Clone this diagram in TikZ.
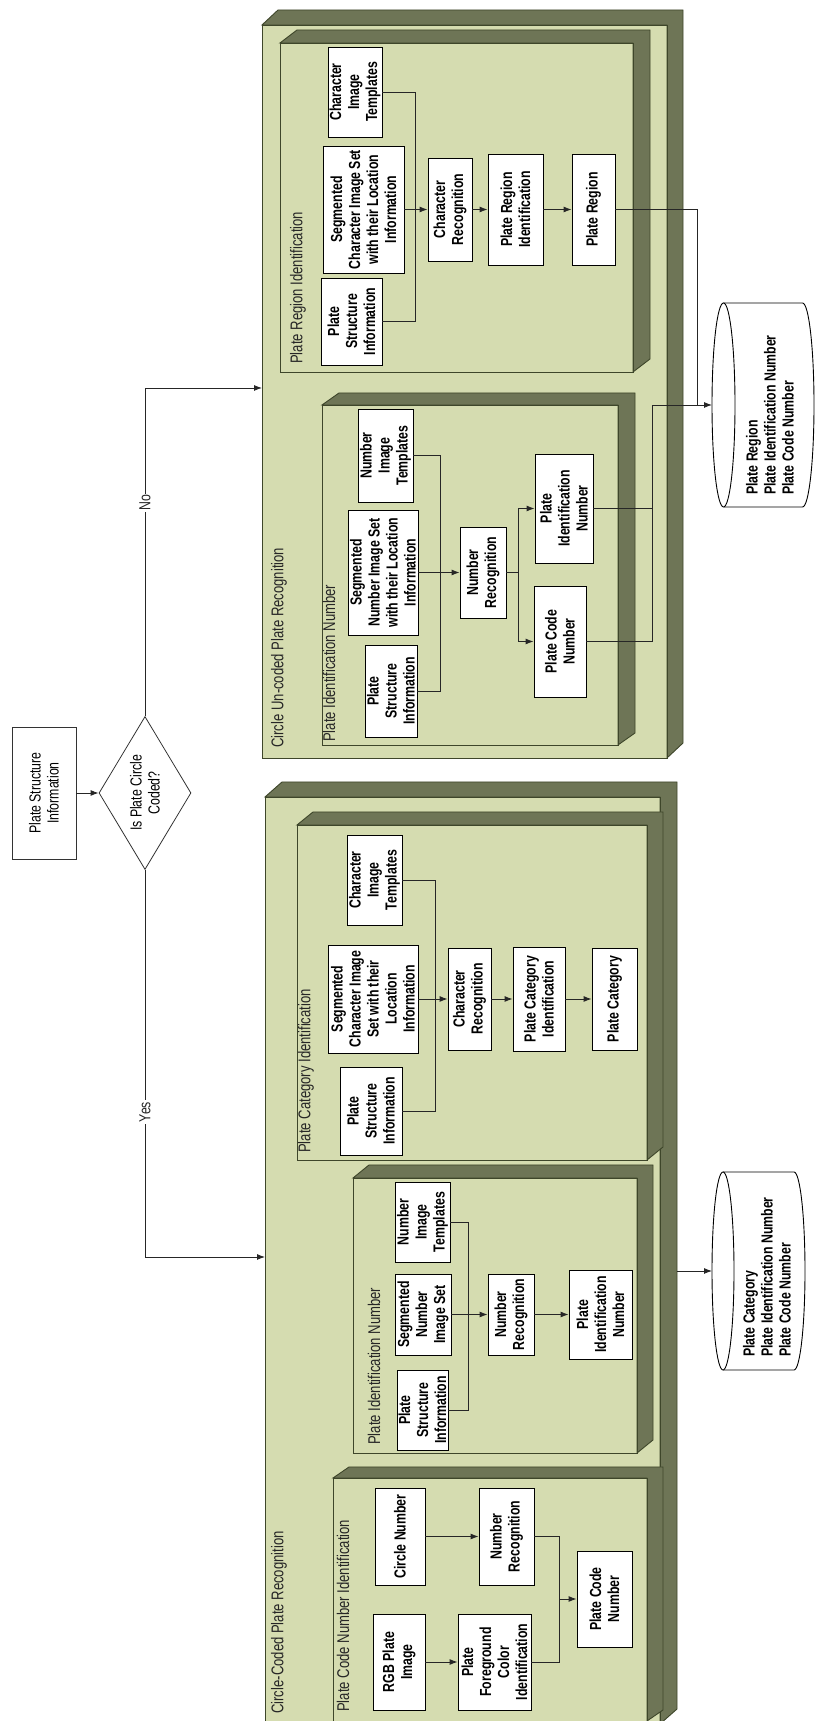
\documentclass[tikz,border=0pt]{standalone}
\usepackage{fontspec}
\setmainfont{Liberation Sans}[FakeStretch=0.77]
\usetikzlibrary{shapes.geometric,arrows.meta}

\definecolor{face}{RGB}{213,220,176}
\definecolor{side}{RGB}{110,117,86}
\definecolor{edge}{RGB}{62,70,42}

% 3D container: X1 Y1 X2 Y2 dx dy
\newcommand\tdbox[6]{%
  \fill[face] (#1,#2) rectangle (#3,#4);
  \filldraw[fill=side,draw=edge,line width=0.9pt] (#3,#2) -- ({#3+#5},{#2+#6}) -- ({#3+#5},{#4+#6}) -- ({#1+#5},{#4+#6}) -- (#1,#4) -- (#3,#4) -- cycle;
  \draw[edge,line width=0.9pt] (#1,#2) rectangle (#3,#4);
}
% white box: name X1 Y1 X2 Y2 text
\newcommand\bx[6]{%
  \node[wbox, minimum width={#4-#2}, minimum height={#5-#3}] (#1) at ({(#2+#4)/2},{(#3+#5)/2}) {#6};
}
% cylinder: name(top coordinate) X1 X2 Ytop Ybot ry
\newcommand\cyl[6]{%
  \filldraw[fill=white,draw=black,line width=0.9pt] (#2,{#4+#6}) -- (#2,{#5-#6}) arc[start angle=180,end angle=0,x radius={(#3-#2)/2},y radius=#6] -- (#3,{#4+#6});
  \filldraw[fill=white,draw=black,line width=0.9pt] ({(#2+#3)/2},{#4+#6}) ellipse[x radius={(#3-#2)/2},y radius=#6];
  \coordinate (#1) at ({(#2+#3)/2},#4);
}

\tikzset{
  wbox/.style={draw=black, fill=white, line width=0.9pt, inner sep=0pt, align=center,
    font=\bfseries\fontsize{16}{18}\selectfont},
  plainbox/.style={draw=black!80, fill=white, line width=0.8pt, inner sep=0pt, align=center,
    font=\fontsize{16}{18}\selectfont},
  ttl/.style={anchor=west, inner sep=0pt, font=\fontsize{17}{20}\selectfont, text=black!85},
  cyltext/.style={anchor=west, inner sep=0pt, align=left, font=\bfseries\fontsize{16}{18}\selectfont},
  lbl/.style={fill=white, inner sep=1.5pt, font=\fontsize{16}{18}\selectfont, text=black!85},
  conn/.style={line width=0.9pt, draw=black!85},
  arr/.style={conn, -{Latex[length=8pt,width=6pt]}},
}

\begin{document}
\begin{tikzpicture}[x=1pt, y=-1pt, rotate=90, transform shape]
\useasboundingbox (0,0) rectangle (1721,815);

% containers
\tdbox{963}{262}{1696}{667}{15}{16}
\tdbox{-3}{265}{924}{660}{15}{17}
\tdbox{1349}{280}{1678}{633}{13}{17}
\tdbox{976}{322}{1316}{618}{12}{17}
\tdbox{561}{297}{896}{647}{13}{16}
\tdbox{268}{353}{543}{637}{13}{16}
\tdbox{0}{333}{243}{647}{11}{16}

% titles
\node[ttl] (t_uc) at (973,279) {Circle Un-coded Plate Recognition};
\node[ttl] (t_cc) at (7,279) {Circle-Coded Plate Recognition};
\node[ttl] (t_pri) at (1357,298) {Plate Region Identification};
\node[ttl] (t_upin) at (979,329) {Plate Identification Number};
\node[ttl] (t_pci) at (568,306) {Plate Category Identification};
\node[ttl] (t_cpin) at (276,374) {Plate Identification Number};
\node[ttl] (t_pcni) at (9,343) {Plate Code Number Identification};

% start and decision
\node[plainbox, minimum width=132, minimum height=64] (psi) at (928,44) {Plate Structure\\Information};
\node[plainbox, diamond, aspect=1.66, minimum width=153, minimum height=92] (dec) at (928,145) {Is Plate Circle\\Coded?};

% un-coded: plate region identification
\bx{r_cit}{1584}{328}{1674}{382}{Character\\Image\\Templates}
\bx{r_seg}{1448}{323}{1575}{404}{Segmented\\Character Image Set\\with their Location\\Information}
\bx{r_psi}{1356}{321}{1443}{382}{Plate\\Structure\\Information}
\bx{r_cr}{1460}{428}{1563}{472}{Character\\Recognition}
\bx{r_pri}{1456}{488}{1567}{543}{Plate Region\\Identification}
\bx{r_pr}{1456}{572}{1567}{615}{Plate Region}

% un-coded: plate identification number
\bx{u_nit}{1219}{358}{1312}{413}{Number\\Image\\Templates}
\bx{u_seg}{1086}{348}{1211}{418}{Segmented\\Number Image Set\\with their Location\\Information}
\bx{u_psi}{984}{365}{1076}{417}{Plate\\Structure\\Information}
\bx{u_nr}{1103}{460}{1194}{506}{Number\\Recognition}
\bx{u_pin}{1158}{535}{1267}{593}{Plate\\Identification\\Number}
\bx{u_pcn}{1024}{534}{1135}{586}{Plate Code\\Number}

% coded: plate category identification
\bx{c_cit}{796}{347}{886}{402}{Character\\Image\\Templates}
\bx{c_seg}{668}{328}{776}{418}{Segmented\\Character Image\\Set with their\\Location\\Information}
\bx{c_psi}{566}{340}{654}{402}{Plate\\Structure\\Information}
\bx{c_cr}{671}{448}{773}{491}{Character\\Recognition}
\bx{c_pci}{670}{513}{774}{565}{Plate Category\\Identification}
\bx{c_pc}{671}{592}{773}{637}{Plate Category}

% coded: plate identification number
\bx{p_nit}{459}{395}{539}{450}{Number\\Image\\Templates}
\bx{p_seg}{366}{395}{447}{451}{Segmented\\Number\\Image Set}
\bx{p_psi}{271}{397}{351}{448}{Plate\\Structure\\Information}
\bx{p_nr}{366}{488}{447}{534}{Number\\Recognition}
\bx{p_pin}{362}{569}{451}{632}{Plate\\Identification\\Number}

% coded: plate code number identification
\bx{q_cn}{136}{375}{233}{425}{Circle Number}
\bx{q_rgb}{11}{373}{107}{425}{RGB Plate\\Image}
\bx{q_nr}{136}{479}{233}{534}{Number\\Recognition}
\bx{q_pfci}{11}{458}{107}{531}{Plate\\Foreground\\Color\\Identification}
\bx{q_pcn}{74}{577}{170}{632}{Plate Code\\Number}

% result stores
\cyl{cyl1top}{1214}{1418}{712}{814}{11.5}
\node[cyltext] (cyl1) at (1226,770) {Plate Region\\Plate Identification Number\\Plate Code Number};
\cyl{cyl2top}{351}{549}{712}{805}{11}
\node[cyltext] (cyl2) at (364,767) {Plate Category\\Plate Identification Number\\Plate Code Number};

% junction coordinates
\coordinate (ccin) at (464,265);
\coordinate (ucin) at (1333,262);
\coordinate (rj) at (1511.5,415);
\coordinate (uj) at (1148.5,440);
\coordinate (us) at (1148.5,518);
\coordinate (uout) at (1316,652);
\coordinate (rout) at (1316,697);
\coordinate (cj) at (722,435);
\coordinate (pj) at (406.5,468);
\coordinate (qj) at (122,559);
\coordinate (ccout) at (450,677);

% connectors: decision
\draw[arr] (psi.south) -- (dec.north);
\draw[arr] (dec.west) -| (ccin);
\draw[arr] (dec.east) -| (ucin);
\node[lbl] (yes) at (609,145) {Yes};
\node[lbl] (no) at (1218,145) {No};

% plate region identification
\draw[conn] (r_cit.south) |- (rj);
\draw[conn] (r_psi.south) |- (rj);
\draw[arr] (r_seg.south) -- (r_cr.north);
\draw[arr] (r_cr.south) -- (r_pri.north);
\draw[arr] (r_pri.south) -- (r_pr.north);
\draw[conn] (r_pr.south) |- (rout);

% un-coded plate identification number
\draw[conn] (u_nit.south) |- (uj);
\draw[conn] (u_psi.south) |- (uj);
\draw[arr] (u_seg.south) -- (u_nr.north);
\draw[conn] (u_nr.south) -- (us);
\draw[arr] (us) -| (u_pin.north);
\draw[arr] (us) -| (u_pcn.north);
\draw[conn] (u_pin.south) |- (uout);
\draw[conn] (u_pcn.south) |- (uout);
\draw[arr] (uout) -- (cyl1top);

% plate category identification
\draw[conn] (c_cit.south) |- (cj);
\draw[conn] (c_psi.south) |- (cj);
\draw[arr] (c_seg.south) -- (c_cr.north);
\draw[arr] (c_cr.south) -- (c_pci.north);
\draw[arr] (c_pci.south) -- (c_pc.north);

% coded plate identification number
\draw[conn] (p_nit.south) |- (pj);
\draw[conn] (p_psi.south) |- (pj);
\draw[arr] (p_seg.south) -- (p_nr.north);
\draw[arr] (p_nr.south) -- (p_pin.north);

% plate code number identification
\draw[arr] (q_cn.south) -- (q_nr.north);
\draw[arr] (q_rgb.south) -- (q_pfci.north);
\draw[conn] (q_nr.south) |- (qj);
\draw[conn] (q_pfci.south) |- (qj);
\draw[arr] (qj) -- (q_pcn.north);

% coded result
\draw[arr] (ccout) -- (cyl2top);
\end{tikzpicture}
\end{document}
